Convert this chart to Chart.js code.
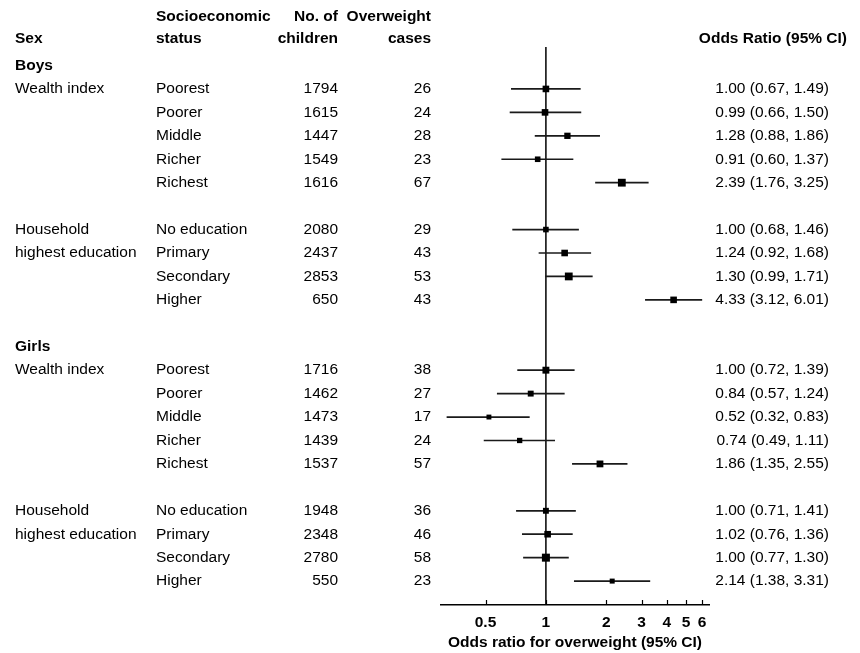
<!DOCTYPE html>
<html><head><meta charset="utf-8">
<script src="https://cdn.jsdelivr.net/npm/chart.js@4.4.0/dist/chart.umd.min.js"></script>
<style>html,body{margin:0;padding:0;background:#fff}#wrap{width:860px;height:653px;position:relative}</style>
</head><body><div id="wrap"><canvas id="c" width="860" height="653"></canvas></div>
<script>
// ---- data ----
const groups = ['Boys', 'Girls'];
const factorLabels = [['Wealth index'], ['Household', 'highest education']];
const categories = ['Poorest', 'Poorer', 'Middle', 'Richer', 'Richest', 'No education', 'Primary', 'Secondary', 'Higher'];
const boysChildren = [1794, 1615, 1447, 1549, 1616, 2080, 2437, 2853, 650];
const boysCases = [26, 24, 28, 23, 67, 29, 43, 53, 43];
const boysOR = [1.00, 0.99, 1.28, 0.91, 2.39, 1.00, 1.24, 1.30, 4.33];
const boysLo = [0.67, 0.66, 0.88, 0.60, 1.76, 0.68, 0.92, 0.99, 3.12];
const boysHi = [1.49, 1.50, 1.86, 1.37, 3.25, 1.46, 1.68, 1.71, 6.01];
const girlsChildren = [1716, 1462, 1473, 1439, 1537, 1948, 2348, 2780, 550];
const girlsCases = [38, 27, 17, 24, 57, 36, 46, 58, 23];
const girlsOR = [1.00, 0.84, 0.52, 0.74, 1.86, 1.00, 1.02, 1.00, 2.14];
const girlsLo = [0.72, 0.57, 0.32, 0.49, 1.35, 0.71, 0.76, 0.77, 1.38];
const girlsHi = [1.39, 1.24, 0.83, 1.11, 2.55, 1.41, 1.36, 1.30, 3.31];
const xTicks = [0.5, 1, 2, 3, 4, 5, 6];
const headers = {
  sex: 'Sex', ses: ['Socioeconomic', 'status'], children: ['No. of', 'children'],
  cases: ['Overweight', 'cases'], or: 'Odds Ratio (95% CI)'
};
const xTitle = 'Odds ratio for overweight (95% CI)';

// ---- layout / style ----
const rowInGroup = [1, 2, 3, 4, 5, 7, 8, 9, 10];
const groupStart = [0, 12];
const boysMarker = [6.6, 6.6, 6.3, 5.6, 7.8, 5.6, 6.6, 7.8, 6.6];
const girlsMarker = [6.9, 5.9, 4.9, 5.3, 6.8, 5.9, 6.6, 8.0, 5.0];
const FONT = '"Liberation Sans", Arial, sans-serif';

const series = [
  {children: boysChildren, cases: boysCases, or: boysOR, lo: boysLo, hi: boysHi, marker: boysMarker},
  {children: girlsChildren, cases: girlsCases, or: girlsOR, lo: girlsLo, hi: girlsHi, marker: girlsMarker}
];

const datasets = [];
const Y_MIN = -0.79, Y_MAX = 23.02;
// reference line at OR = 1
datasets.push({type: 'line', data: [{x: 1, y: Y_MIN}, {x: 1, y: Y_MAX}], borderColor: '#000', borderWidth: 1.5, pointRadius: 0, order: 3});
const pts = [], radii = [];
series.forEach((s, g) => {
  categories.forEach((c, i) => {
    const y = groupStart[g] + rowInGroup[i];
    datasets.push({type: 'line', data: [{x: s.lo[i], y}, {x: s.hi[i], y}], borderColor: '#1a1a1a', borderWidth: 1.7, pointRadius: 0, order: 2});
    pts.push({x: s.or[i], y});
    radii.push(s.marker[i] / Math.SQRT2);
  });
});
datasets.push({type: 'scatter', data: pts, pointStyle: 'rect', pointRadius: radii, pointHoverRadius: radii,
  backgroundColor: '#000', borderWidth: 0, order: 1});

const fmt = v => v.toFixed(2);

const textPlugin = {
  id: 'forestText',
  afterDraw(chart) {
    const ctx = chart.ctx, ys = chart.scales.y, xs = chart.scales.x;
    const area = chart.chartArea;
    ctx.save();
    // upward tick marks
    ctx.strokeStyle = '#000'; ctx.lineWidth = 1.2;
    xTicks.forEach(v => {
      const px = Math.round(xs.getPixelForValue(v)) + 0.5;
      ctx.beginPath(); ctx.moveTo(px, area.bottom); ctx.lineTo(px, area.bottom - 5); ctx.stroke();
    });
    ctx.fillStyle = '#000';
    ctx.textBaseline = 'middle';
    const Y = r => ys.getPixelForValue(r);
    const bold = 'bold 15.5px ' + FONT, reg = '15.5px ' + FONT;
    const h1 = Y(-2.1), h2 = Y(-1.15);
    ctx.font = bold;
    ctx.textAlign = 'left';
    ctx.fillText(headers.sex, 15, h2);
    ctx.fillText(headers.ses[0], 156, h1);
    ctx.fillText(headers.ses[1], 156, h2);
    ctx.textAlign = 'right';
    ctx.fillText(headers.children[0], 338, h1);
    ctx.fillText(headers.children[1], 338, h2);
    ctx.fillText(headers.cases[0], 431, h1);
    ctx.fillText(headers.cases[1], 431, h2);
    ctx.fillText(headers.or, 847, h2);
    series.forEach((s, g) => {
      const base = groupStart[g];
      ctx.font = bold; ctx.textAlign = 'left';
      ctx.fillText(groups[g], 15, Y(base));
      ctx.font = reg;
      ctx.fillText(factorLabels[0][0], 15, Y(base + 1));
      ctx.fillText(factorLabels[1][0], 15, Y(base + 7));
      ctx.fillText(factorLabels[1][1], 15, Y(base + 8));
      categories.forEach((c, i) => {
        const y = Y(base + rowInGroup[i]);
        ctx.textAlign = 'left';
        ctx.fillText(c, 156, y);
        ctx.textAlign = 'right';
        ctx.fillText(String(s.children[i]), 338, y);
        ctx.fillText(String(s.cases[i]), 431, y);
        ctx.fillText(fmt(s.or[i]) + ' (' + fmt(s.lo[i]) + ', ' + fmt(s.hi[i]) + ')', 829, y);
      });
    });
    ctx.restore();
  }
};

new Chart(document.getElementById('c'), {
  data: {datasets},
  options: {
    responsive: false, animation: false, devicePixelRatio: 1,
    layout: {padding: {left: 441, right: 151, top: 47, bottom: 0}},
    plugins: {legend: {display: false}, tooltip: {enabled: false}},
    scales: {
      x: {
        type: 'logarithmic', min: 0.3, max: 6.5, position: 'bottom',
        afterBuildTicks: sc => { sc.ticks = xTicks.map(v => ({value: v})); },
        afterFit: sc => { sc.height = 48; },
        grid: {display: false, drawTicks: false},
        border: {display: true, color: '#000', width: 1.5},
        ticks: {autoSkip: false, maxRotation: 0, padding: 8, color: '#000',
          font: {family: FONT, size: 15.5, weight: 'bold'}, callback: v => String(v)},
        title: {display: true, text: xTitle, color: '#000', padding: {top: 0, bottom: 1},
          font: {family: FONT, size: 15.5, weight: 'bold'}}
      },
      y: {type: 'linear', reverse: true, min: Y_MIN, max: Y_MAX, display: false}
    }
  },
  plugins: [textPlugin]
});
</script>
</body></html>
